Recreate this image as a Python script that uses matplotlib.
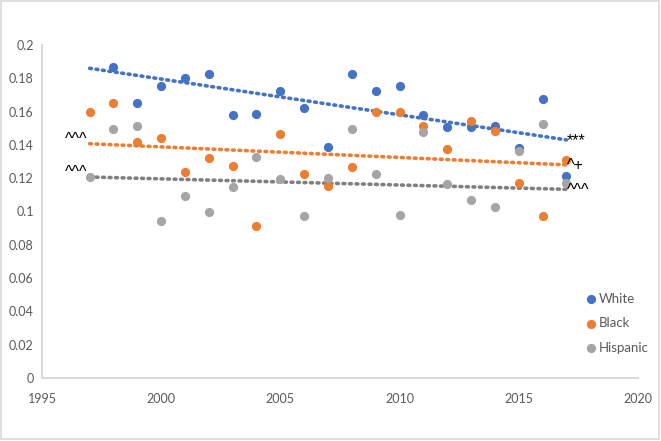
import numpy as np
import matplotlib
matplotlib.use('Agg')
import matplotlib.pyplot as plt
from matplotlib.patches import Rectangle

years = list(range(1997, 2018))

white = [None, 0.1866, 0.1653, 0.1754, 0.1800, 0.1826, 0.1578, 0.1587, 0.1726, 0.1623,
         0.1386, 0.1826, 0.1726, 0.1754, 0.1578, 0.1506, 0.1506, 0.1515, 0.1380, 0.1678, 0.1213]
black = [0.1598, 0.1650, 0.1416, 0.1440, 0.1237, 0.1320, 0.1275, 0.0915, 0.1467, 0.1227,
         0.1155, 0.1265, 0.1598, 0.1598, 0.1515, 0.1375, 0.1542, 0.1483, 0.1173, 0.0971, 0.1311]
hispanic = [0.1209, 0.1495, 0.1513, 0.0943, 0.1091, 0.0999, 0.1145, 0.1329, 0.1193, 0.0973,
            0.1201, 0.1495, 0.1227, 0.0981, 0.1476, 0.1165, 0.1071, 0.1027, 0.1363, 0.1524, 0.1173]

# trendline end values (1997, 2017) as drawn in the source chart
trend_white = [0.1860, 0.1430]
trend_black = [0.1407, 0.1280]
trend_hispanic = [0.1207, 0.1133]

series_names = ['White', 'Black', 'Hispanic']
left_marks = ['', '^^^', '^^^']
right_marks = ['***', '^+', '^^^']

COLORS = {'White': '#4472C4', 'Black': '#ED7D31', 'Hispanic': '#A5A5A5'}
TREND_COLORS = {'White': '#4472C4', 'Black': '#ED7D31', 'Hispanic': '#7F7F7F'}

plt.rcParams['font.family'] = ['Lato', 'DejaVu Sans']

fig = plt.figure(figsize=(6.61, 4.41), dpi=100)
ax = fig.add_axes([0.0635, 0.143, 0.9015, 0.755])

data = {'White': white, 'Black': black, 'Hispanic': hispanic}
trends = {'White': trend_white, 'Black': trend_black, 'Hispanic': trend_hispanic}

for name, lm, rm in zip(series_names, left_marks, right_marks):
    vals = data[name]
    x = [y for y, v in zip(years, vals) if v is not None]
    y = [v for v in vals if v is not None]
    ax.scatter(x, y, s=44, color=COLORS[name], label=name, zorder=3, linewidths=0)
    tx = [years[0], years[-1]]
    ty = trends[name]
    ax.plot(tx, ty, linestyle=(0, (0.5, 1.3)), dash_capstyle='round', lw=2.6,
            color=TREND_COLORS[name], zorder=2)
    if lm:
        ax.text(tx[0] - 0.08, ty[0] - 0.002, lm, ha='right', va='bottom', fontsize=11.5,
                family='Liberation Sans', color='black')
    ax.text(tx[1] + 0.03, ty[1] - 0.005, rm, ha='left', va='bottom', fontsize=11.5,
            family='Liberation Sans', color='black')

ax.set_xlim(1995, 2020)
ax.set_ylim(0, 0.2)
ax.set_xticks(range(1995, 2021, 5))
ax.set_yticks(np.arange(0, 0.201, 0.02))
ax.set_yticklabels(['0', '0.02', '0.04', '0.06', '0.08', '0.1', '0.12', '0.14', '0.16', '0.18', '0.2'])
ax.tick_params(length=0, labelsize=9, labelcolor='#595959')
ax.tick_params(axis='x', pad=11)
ax.tick_params(axis='y', pad=6)
for s in ['top', 'right']:
    ax.spines[s].set_visible(False)
for s in ['left', 'bottom']:
    ax.spines[s].set_color('#D9D9D9')
    ax.spines[s].set_linewidth(1.5)

leg = ax.legend(loc='upper left', bbox_to_anchor=(0.876, 0.348), bbox_transform=fig.transFigure,
                frameon=False, fontsize=9.5, handletextpad=0.1, labelspacing=0.95,
                handlelength=1.0, borderaxespad=0)
for t in leg.get_texts():
    t.set_color('#595959')

fig.patches.append(Rectangle((0.002, 0.004), 0.995, 0.993, transform=fig.transFigure,
                             fill=False, edgecolor='#D9D9D9', lw=1.2))

fig.savefig('out.png', dpi=100)
